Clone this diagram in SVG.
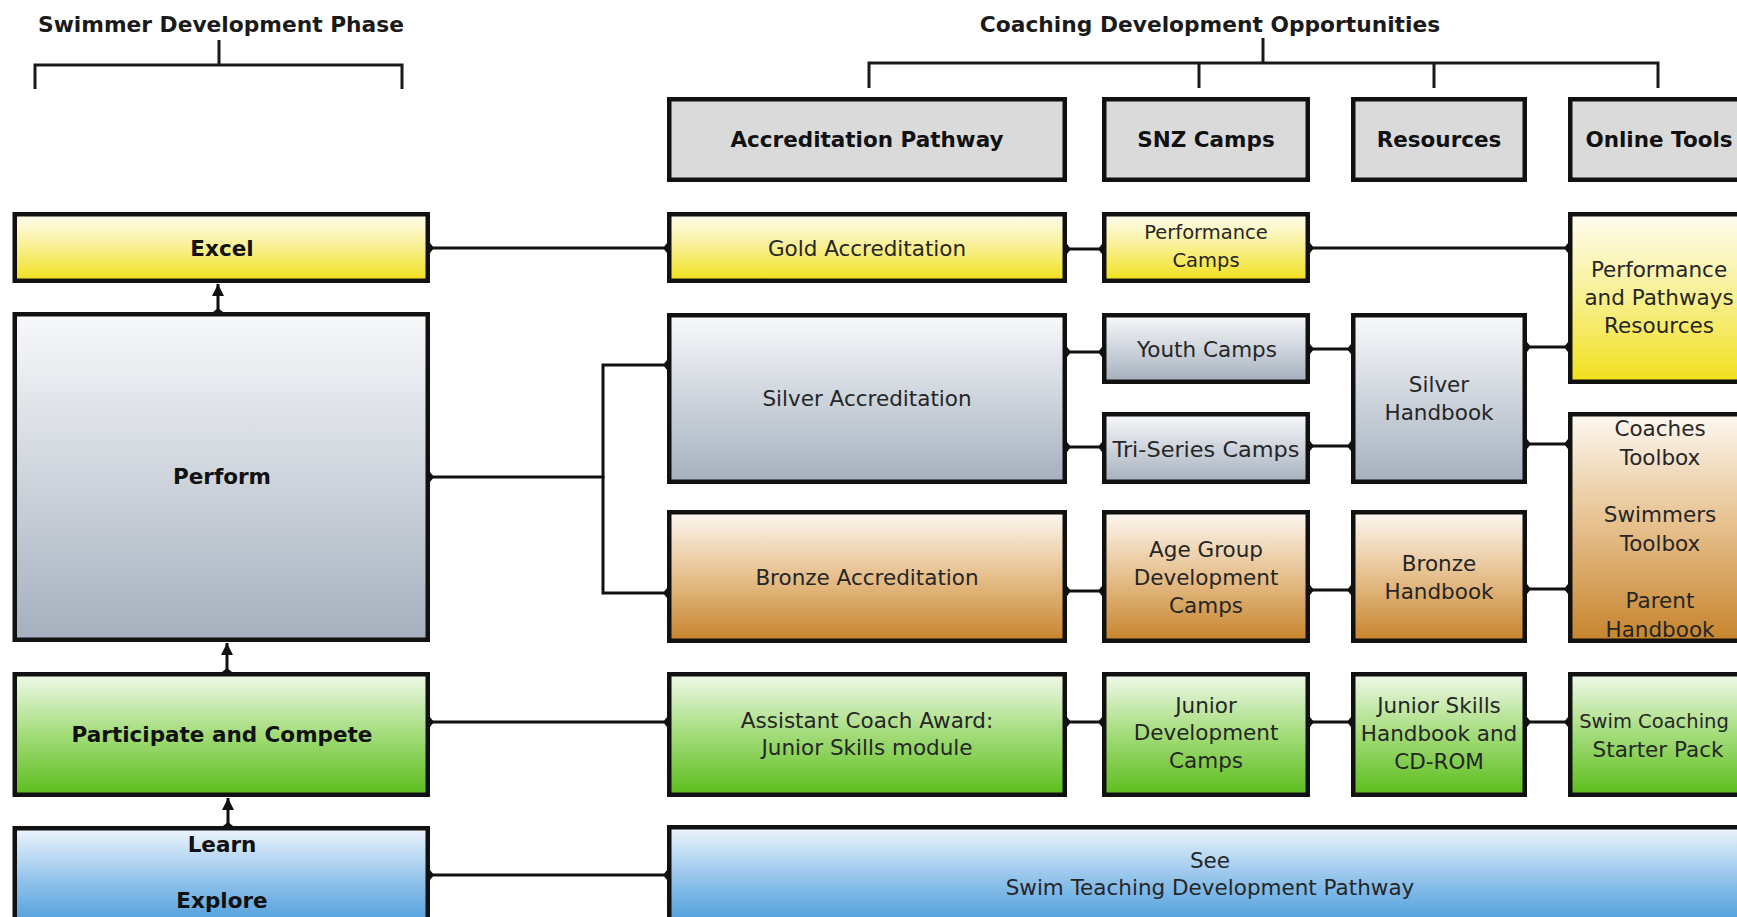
<svg xmlns="http://www.w3.org/2000/svg" width="1737" height="917" viewBox="0 0 1737 917">
  <style>
    .box { stroke: #111; stroke-width: 4.5; }
    .hdr { fill: #dadada; }
    .gold { fill: url(#gGold); }
    .silver { fill: url(#gSilver); }
    .bronze { fill: url(#gBronze); }
    .green { fill: url(#gGreen); }
    .blue { fill: url(#gBlue); }
    text { font-family: "DejaVu Sans", Verdana, sans-serif; text-anchor: middle; }
    .b { font-weight: bold; font-size: 21.5px; fill: #111; }
    .r { font-size: 21.5px; fill: #262626; }
    .s { font-size: 19.5px; fill: #262626; }
    .title { font-weight: bold; font-size: 21.75px; fill: #1a1a1a; }
    .conn { fill: none; stroke: #111; stroke-width: 3; }
    .brace { fill: none; stroke: #1a1a1a; stroke-width: 3; }
  </style>
  <defs>
    <linearGradient id="gGold" x1="0" y1="0" x2="0" y2="1">
      <stop offset="0" stop-color="#fffdf2"/>
      <stop offset="0.45" stop-color="#f9f19a"/>
      <stop offset="1" stop-color="#f1e01c"/>
    </linearGradient>
    <linearGradient id="gSilver" x1="0" y1="0" x2="0" y2="1">
      <stop offset="0" stop-color="#f8f9fb"/>
      <stop offset="1" stop-color="#a5b0be"/>
    </linearGradient>
    <linearGradient id="gBronze" x1="0" y1="0" x2="0" y2="1">
      <stop offset="0" stop-color="#fdf8f2"/>
      <stop offset="0.5" stop-color="#e6bf8c"/>
      <stop offset="1" stop-color="#c7842c"/>
    </linearGradient>
    <linearGradient id="gGreen" x1="0" y1="0" x2="0" y2="1">
      <stop offset="0" stop-color="#f0f9ea"/>
      <stop offset="0.5" stop-color="#a3dc7a"/>
      <stop offset="1" stop-color="#5bbd1c"/>
    </linearGradient>
    <linearGradient id="gBlue" x1="0" y1="0" x2="0" y2="1">
      <stop offset="0" stop-color="#eef5fc"/>
      <stop offset="0.5" stop-color="#8cc0ea"/>
      <stop offset="1" stop-color="#3a93d8"/>
    </linearGradient>
    <marker id="dot" viewBox="-6 -6 12 12" markerWidth="12" markerHeight="12" markerUnits="userSpaceOnUse" orient="auto">
      <path d="M-4,0 L0,-5 L4,0 L0,5 Z" fill="#111"/>
    </marker>
    <marker id="arrow" viewBox="-13 -7 14 14" markerWidth="14" markerHeight="14" markerUnits="userSpaceOnUse" orient="auto">
      <path d="M0,0 L-12,-6 L-12,6 Z" fill="#111"/>
    </marker>
  </defs>

  <!-- section titles with brackets -->
  <g id="title-swimmer">
    <text class="title" x="221" y="32">Swimmer Development Phase</text>
    <path class="brace" d="M219,40 V65 M35,89 V65 H402 V89"/>
  </g>
  <g id="title-coaching">
    <text class="title" x="1210" y="32">Coaching Development Opportunities</text>
    <path class="brace" d="M1263,38 V63 M869,88 V63 H1658 V88 M1199,63 V88 M1434,63 V88"/>
  </g>

  <!-- connectors -->
  <g id="connectors">
    <path class="conn" d="M430,248 H667" marker-start="url(#dot)" marker-end="url(#dot)"/>
    <path class="conn" d="M1067,249 H1102" marker-start="url(#dot)" marker-end="url(#dot)"/>
    <path class="conn" d="M1310,248 H1568" marker-start="url(#dot)" marker-end="url(#dot)"/>
    <path class="conn" d="M430,477 H603 V365 H667" marker-start="url(#dot)" marker-end="url(#dot)"/>
    <path class="conn" d="M603,476 V593 H667" marker-end="url(#dot)"/>
    <path class="conn" d="M1067,352 H1102" marker-start="url(#dot)" marker-end="url(#dot)"/>
    <path class="conn" d="M1067,447 H1102" marker-start="url(#dot)" marker-end="url(#dot)"/>
    <path class="conn" d="M1310,349 H1351" marker-start="url(#dot)" marker-end="url(#dot)"/>
    <path class="conn" d="M1310,446 H1351" marker-start="url(#dot)" marker-end="url(#dot)"/>
    <path class="conn" d="M1527,347 H1568" marker-start="url(#dot)" marker-end="url(#dot)"/>
    <path class="conn" d="M1527,444 H1568" marker-start="url(#dot)" marker-end="url(#dot)"/>
    <path class="conn" d="M1067,591 H1102" marker-start="url(#dot)" marker-end="url(#dot)"/>
    <path class="conn" d="M1310,590 H1351" marker-start="url(#dot)" marker-end="url(#dot)"/>
    <path class="conn" d="M1527,589 H1568" marker-start="url(#dot)" marker-end="url(#dot)"/>
    <path class="conn" d="M430,722 H667" marker-start="url(#dot)" marker-end="url(#dot)"/>
    <path class="conn" d="M1067,722 H1102" marker-start="url(#dot)" marker-end="url(#dot)"/>
    <path class="conn" d="M1310,722 H1351" marker-start="url(#dot)" marker-end="url(#dot)"/>
    <path class="conn" d="M1527,722 H1568" marker-start="url(#dot)" marker-end="url(#dot)"/>
    <path class="conn" d="M430,875 H667" marker-start="url(#dot)" marker-end="url(#dot)"/>
    <path class="conn" d="M218,312 V284" marker-start="url(#dot)" marker-end="url(#arrow)"/>
    <path class="conn" d="M227,672 V643" marker-start="url(#dot)" marker-end="url(#arrow)"/>
    <path class="conn" d="M228,826 V798" marker-start="url(#dot)" marker-end="url(#arrow)"/>
  </g>

  <!-- column headers -->
  <g id="hdr-accreditation">
    <rect class="box hdr" x="669.25" y="99.25" width="395.5" height="80.5"/>
    <text class="b" x="867" y="147">Accreditation Pathway</text>
  </g>
  <g id="hdr-camps">
    <rect class="box hdr" x="1104.25" y="99.25" width="203.5" height="80.5"/>
    <text class="b" x="1206" y="147">SNZ Camps</text>
  </g>
  <g id="hdr-resources">
    <rect class="box hdr" x="1353.25" y="99.25" width="171.5" height="80.5"/>
    <text class="b" x="1439" y="147">Resources</text>
  </g>
  <g id="hdr-online">
    <rect class="box hdr" x="1570.25" y="99.25" width="177.5" height="80.5"/>
    <text class="b" x="1659" y="147">Online Tools</text>
  </g>

  <!-- swimmer phases -->
  <g id="excel">
    <rect class="box gold" x="14.75" y="214.25" width="413" height="66.5"/>
    <text class="b" x="222" y="256">Excel</text>
  </g>
  <g id="perform">
    <rect class="box silver" x="14.75" y="314.25" width="413" height="325.5"/>
    <text class="b" x="222" y="484">Perform</text>
  </g>
  <g id="participate">
    <rect class="box green" x="14.75" y="674.25" width="413" height="120.5"/>
    <text class="b" x="222" y="742">Participate and Compete</text>
  </g>
  <g id="learn-explore">
    <rect class="box blue" x="14.75" y="828.25" width="413" height="110"/>
    <text class="b" x="222" y="852">Learn</text>
    <text class="b" x="222" y="908">Explore</text>
  </g>

  <!-- accreditation pathway -->
  <g id="gold-accreditation">
    <rect class="box gold" x="669.25" y="214.25" width="395.5" height="66.5"/>
    <text class="r" x="867" y="256">Gold Accreditation</text>
  </g>
  <g id="silver-accreditation">
    <rect class="box silver" x="669.25" y="315.25" width="395.5" height="166.5"/>
    <text class="r" x="867" y="406">Silver Accreditation</text>
  </g>
  <g id="bronze-accreditation">
    <rect class="box bronze" x="669.25" y="512.25" width="395.5" height="128.5"/>
    <text class="r" x="867" y="585">Bronze Accreditation</text>
  </g>
  <g id="assistant-coach">
    <rect class="box green" x="669.25" y="674.25" width="395.5" height="120.5"/>
    <text class="r" x="867" y="728">Assistant Coach Award:</text>
    <text class="r" x="867" y="755">Junior Skills module</text>
  </g>
  <g id="swim-teaching">
    <rect class="box blue" x="669.25" y="827.25" width="1090" height="110"/>
    <text class="r" x="1210" y="868">See</text>
    <text class="r" x="1210" y="895">Swim Teaching Development Pathway</text>
  </g>

  <!-- SNZ camps -->
  <g id="performance-camps">
    <rect class="box gold" x="1104.25" y="214.25" width="203.5" height="66.5"/>
    <text class="s" x="1206" y="239">Performance</text>
    <text class="s" x="1206" y="267">Camps</text>
  </g>
  <g id="youth-camps">
    <rect class="box silver" x="1104.25" y="315.25" width="203.5" height="66.5"/>
    <text class="r" x="1207" y="357">Youth Camps</text>
  </g>
  <g id="tri-series-camps">
    <rect class="box silver" x="1104.25" y="414.25" width="203.5" height="67.5"/>
    <text class="r" x="1206" y="457" textLength="187" lengthAdjust="spacingAndGlyphs">Tri-Series Camps</text>
  </g>
  <g id="age-group-camps">
    <rect class="box bronze" x="1104.25" y="512.25" width="203.5" height="128.5"/>
    <text class="r" x="1206" y="557">Age Group</text>
    <text class="r" x="1206" y="585">Development</text>
    <text class="r" x="1206" y="613">Camps</text>
  </g>
  <g id="junior-camps">
    <rect class="box green" x="1104.25" y="674.25" width="203.5" height="120.5"/>
    <text class="r" x="1206" y="713">Junior</text>
    <text class="r" x="1206" y="740">Development</text>
    <text class="r" x="1206" y="768">Camps</text>
  </g>

  <!-- resources -->
  <g id="silver-handbook">
    <rect class="box silver" x="1353.25" y="315.25" width="171.5" height="166.5"/>
    <text class="r" x="1439" y="392">Silver</text>
    <text class="r" x="1439" y="420">Handbook</text>
  </g>
  <g id="bronze-handbook">
    <rect class="box bronze" x="1353.25" y="512.25" width="171.5" height="128.5"/>
    <text class="r" x="1439" y="571">Bronze</text>
    <text class="r" x="1439" y="599">Handbook</text>
  </g>
  <g id="junior-skills-handbook">
    <rect class="box green" x="1353.25" y="674.25" width="171.5" height="120.5"/>
    <text class="r" x="1439" y="713">Junior Skills</text>
    <text class="r" x="1439" y="741">Handbook and</text>
    <text class="r" x="1439" y="769">CD-ROM</text>
  </g>

  <!-- online tools -->
  <g id="performance-pathways">
    <rect class="box gold" x="1570.25" y="214.25" width="177.5" height="167.5"/>
    <text class="r" x="1659" y="277">Performance</text>
    <text class="r" x="1659" y="305">and Pathways</text>
    <text class="r" x="1659" y="333">Resources</text>
  </g>
  <g id="toolboxes">
    <rect class="box bronze" x="1570.25" y="414.25" width="177.5" height="226.5"/>
    <text class="r" x="1660" y="436">Coaches</text>
    <text class="r" x="1660" y="465">Toolbox</text>
    <text class="r" x="1660" y="522">Swimmers</text>
    <text class="r" x="1660" y="551">Toolbox</text>
    <text class="r" x="1660" y="608">Parent</text>
    <text class="r" x="1660" y="637">Handbook</text>
  </g>
  <g id="starter-pack">
    <rect class="box green" x="1570.25" y="674.25" width="177.5" height="120.5"/>
    <text class="s" x="1654" y="728">Swim Coaching</text>
    <text class="r" x="1658" y="757">Starter Pack</text>
  </g>
</svg>
